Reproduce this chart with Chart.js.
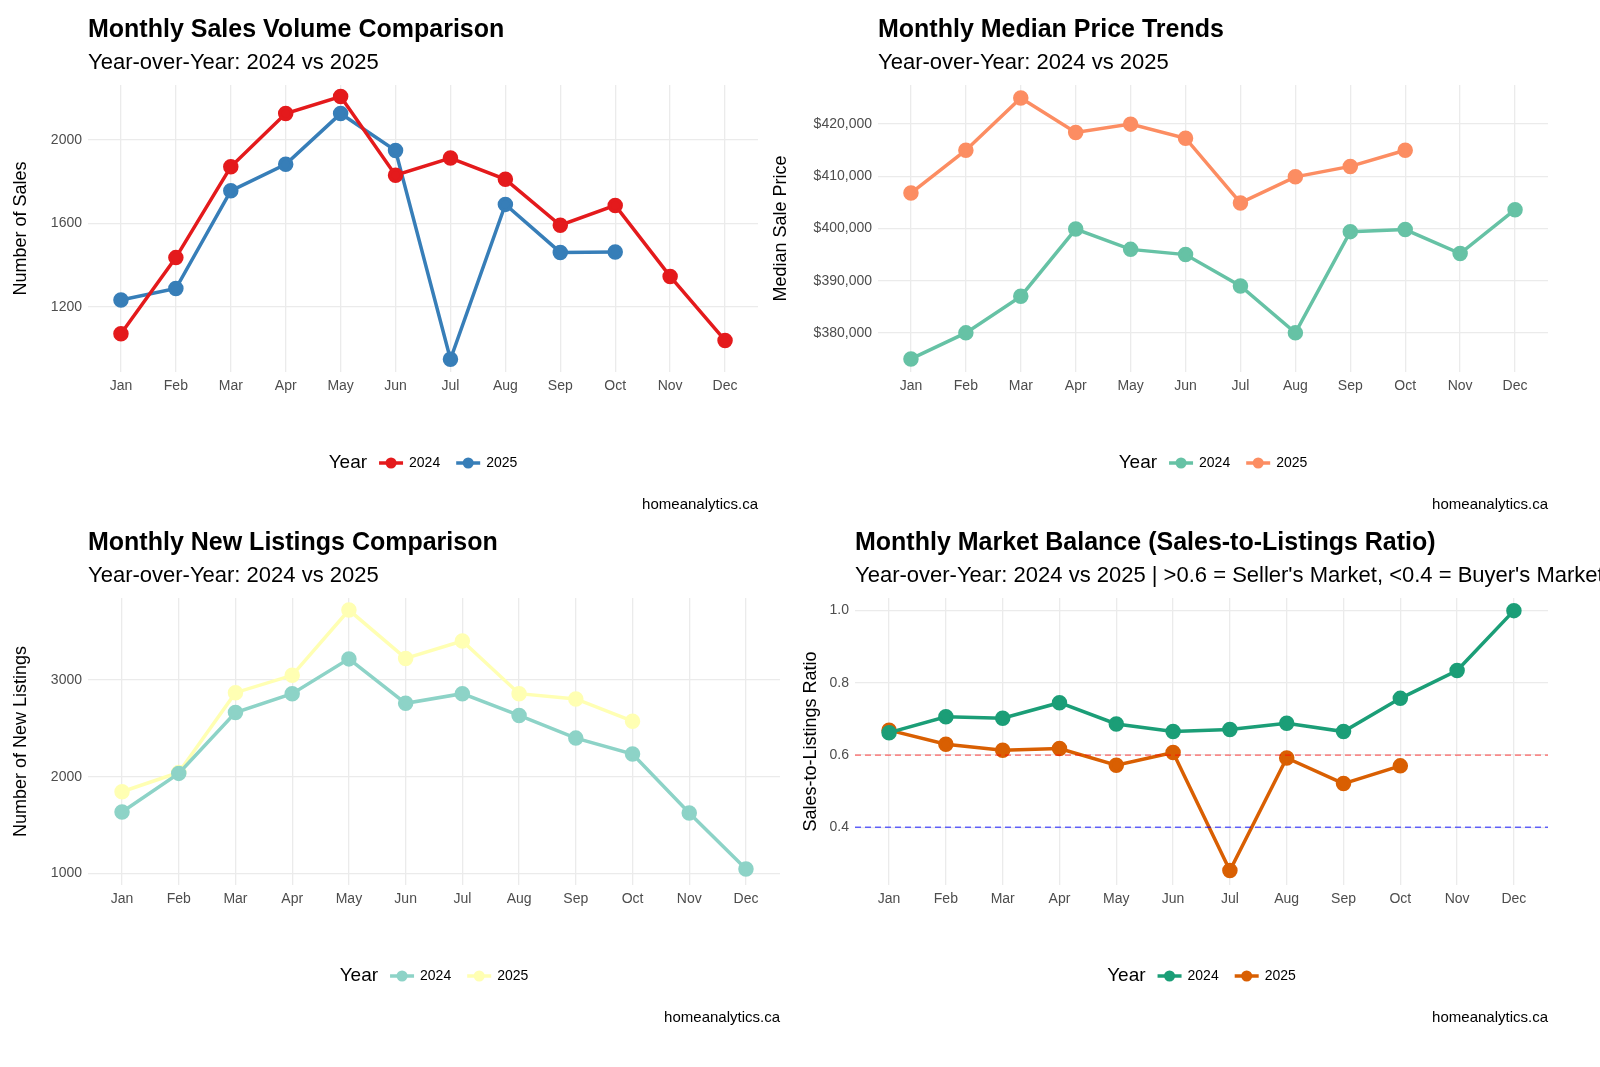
<!DOCTYPE html>
<html><head><meta charset="utf-8">
<script src="https://cdn.jsdelivr.net/npm/chart.js@4"></script>
<style>
body{margin:0;background:#fff;width:1600px;height:1067px;overflow:hidden;position:relative;font-family:Arial,"Liberation Sans",sans-serif}
.p{position:absolute;height:533px}
</style></head><body>
<div class="p" style="left:0;top:0;width:780px"><canvas id="c1"></canvas></div>
<div class="p" style="left:760px;top:0;width:840px"><canvas id="c2"></canvas></div>
<div class="p" style="left:0;top:513px;width:800px"><canvas id="c3"></canvas></div>
<div class="p" style="left:790px;top:513px;width:810px"><canvas id="c4"></canvas></div>
<script>
const months = ['Jan','Feb','Mar','Apr','May','Jun','Jul','Aug','Sep','Oct','Nov','Dec'];

const sales2024 = [1070,1435,1870,2125,2207,1830,1912,1810,1590,1685,1345,1038];
const sales2025 = [1232,1287,1755,1882,2125,1948,948,1690,1460,1462];

const price2024 = [375000,380000,387000,399900,396000,395000,389000,380000,399400,399800,395200,403600];
const price2025 = [406800,415000,425000,418400,420000,417300,404900,409900,411900,415000];

const listings2024 = [1635,2035,2665,2860,3220,2760,2860,2635,2400,2235,1625,1045];
const listings2025 = [1845,2045,2870,3050,3725,3225,3405,2860,2805,2575];

const ratio2024 = [0.662,0.706,0.702,0.745,0.686,0.665,0.671,0.688,0.665,0.757,0.834,1.0];
const ratio2025 = [0.669,0.630,0.613,0.618,0.572,0.607,0.280,0.592,0.521,0.570];

const sellerLine = 0.6, buyerLine = 0.4;

const pts = arr => arr.map((v, i) => ({x: i, y: v}));
const FONT = 'Arial, "Liberation Sans", sans-serif';

function decorPlugin(cfg) {
    return {
        id: 'decor',
        afterDraw(chart) {
            const c = chart.ctx, a = chart.chartArea;
            c.save();
            c.fillStyle = '#000';
            c.textAlign = 'left'; c.textBaseline = 'middle';
            c.font = 'bold 25px ' + FONT;
            c.fillText(cfg.title, a.left, 30);
            c.font = '22px ' + FONT;
            c.fillText(cfg.subtitle, a.left, 63);
            // legend
            c.font = '19px ' + FONT;
            const yearW = c.measureText('Year').width;
            c.font = '14px ' + FONT;
            const lw = c.measureText('2024').width;
            const total = yearW + 12 + 2 * (30 + lw) + 16;
            let x = (a.left + a.right) / 2 - total / 2;
            const ly = 463;
            c.font = '19px ' + FONT; c.fillStyle = '#000';
            c.fillText('Year', x, ly); x += yearW + 12;
            c.font = '14px ' + FONT;
            cfg.colors.forEach((col, i) => {
                c.strokeStyle = col; c.lineWidth = 3.5;
                c.beginPath(); c.moveTo(x, ly); c.lineTo(x + 24, ly); c.stroke();
                c.fillStyle = col; c.beginPath(); c.arc(x + 12, ly, 5.5, 0, Math.PI * 2); c.fill();
                x += 30;
                c.fillStyle = '#000'; c.fillText(['2024', '2025'][i], x, ly);
                x += lw + 16;
            });
            c.textAlign = 'right'; c.font = '15px ' + FONT;
            c.fillText('homeanalytics.ca', a.right, 505);
            c.restore();
        }
    };
}

function makeChart(id, cfg) {
    const el = document.getElementById(id);
    el.width = cfg.width; el.height = 533;
    const datasets = [
        {data: pts(cfg.s1), borderColor: cfg.colors[0], backgroundColor: cfg.colors[0]},
        {data: pts(cfg.s2), borderColor: cfg.colors[1], backgroundColor: cfg.colors[1]}
    ].map(d => Object.assign(d, {borderWidth: 3.5, pointRadius: 6, pointHoverRadius: 6, tension: 0}));
    (cfg.refs || []).forEach(r => datasets.unshift({
        data: [{x: -0.6, y: r.y}, {x: 11.6, y: r.y}], borderColor: r.color, borderWidth: 1.3,
        borderDash: [6, 4], pointRadius: 0
    }));
    new Chart(el, {
        type: 'line',
        data: {datasets},
        options: {
            responsive: false, animation: false, devicePixelRatio: 1,
            layout: {padding: {top: 85, left: 0, right: cfg.width - cfg.right, bottom: 0}},
            plugins: {legend: {display: false}, tooltip: {enabled: false}},
            scales: {
                x: {
                    type: 'linear', min: -0.6, max: 11.6,
                    afterBuildTicks: s => { s.ticks = months.map((m, i) => ({value: i})); },
                    afterFit: s => { s.height = 533 - 372; },
                    ticks: {callback: v => months[v], color: '#4d4d4d', font: {size: 14, family: FONT}, padding: 6, maxRotation: 0, autoSkip: false},
                    grid: {color: '#ebebeb', lineWidth: 1.3, drawTicks: false}, border: {display: false}
                },
                y: {
                    min: cfg.min, max: cfg.max,
                    afterBuildTicks: s => { s.ticks = cfg.ticks.map(v => ({value: v})); },
                    afterFit: s => { s.width = cfg.left; },
                    ticks: {callback: cfg.fmt, color: '#4d4d4d', font: {size: 14, family: FONT}, padding: 6},
                    title: {display: true, text: cfg.ytitle, color: '#000', font: {size: 18, family: FONT}, padding: {top: 10, bottom: 0}},
                    grid: {color: '#ebebeb', lineWidth: 1.3, drawTicks: false}, border: {display: false}
                }
            }
        },
        plugins: [decorPlugin(cfg)]
    });
}

const usd = v => '$' + v.toLocaleString('en-US');

makeChart('c1', {title: 'Monthly Sales Volume Comparison', subtitle: 'Year-over-Year: 2024 vs 2025',
    ytitle: 'Number of Sales', s1: sales2024, s2: sales2025, colors: ['#e41a1c', '#377eb8'],
    min: 887, max: 2262, ticks: [1200, 1600, 2000], fmt: v => v, width: 780, left: 88, right: 758});
makeChart('c2', {title: 'Monthly Median Price Trends', subtitle: 'Year-over-Year: 2024 vs 2025',
    ytitle: 'Median Sale Price', s1: price2024, s2: price2025, colors: ['#66c2a5', '#fc8d62'],
    min: 372500, max: 427500, ticks: [380000, 390000, 400000, 410000, 420000], fmt: usd, width: 840, left: 118, right: 788});
makeChart('c3', {title: 'Monthly New Listings Comparison', subtitle: 'Year-over-Year: 2024 vs 2025',
    ytitle: 'Number of New Listings', s1: listings2024, s2: listings2025, colors: ['#8dd3c7', '#ffffb3'],
    min: 880, max: 3850, ticks: [1000, 2000, 3000], fmt: v => v, width: 800, left: 88, right: 780});
makeChart('c4', {title: 'Monthly Market Balance (Sales-to-Listings Ratio)',
    subtitle: "Year-over-Year: 2024 vs 2025 | >0.6 = Seller's Market, <0.4 = Buyer's Market",
    ytitle: 'Sales-to-Listings Ratio', s1: ratio2024, s2: ratio2025, colors: ['#1b9e77', '#d95f02'],
    refs: [{y: sellerLine, color: 'rgba(255,0,0,0.6)'}, {y: buyerLine, color: 'rgba(0,0,255,0.6)'}],
    min: 0.24, max: 1.035, ticks: [0.4, 0.6, 0.8, 1.0], fmt: v => v.toFixed(1), width: 810, left: 65, right: 758});
</script>
</body></html>
